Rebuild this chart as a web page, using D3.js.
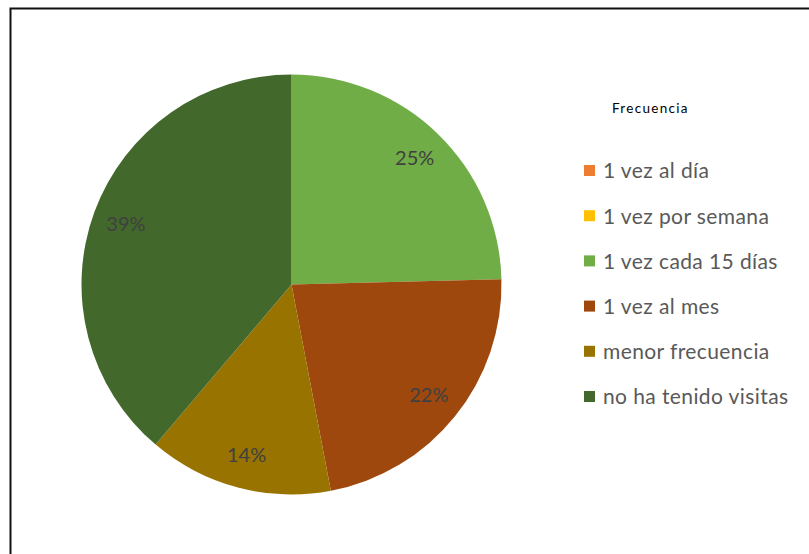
<!DOCTYPE html>
<html lang="es">
<head>
<meta charset="UTF-8">
<title>Frecuencia</title>
<style>
  body { margin: 0; background: #fff; }
  svg { display: block; font-family: Lato, "Open Sans", sans-serif; }
</style>
<script src="https://d3js.org/d3.v7.min.js"></script>
</head>
<body>
<svg width="809" height="554"></svg>
<script>
// data
var categories = ["1 vez al día", "1 vez por semana", "1 vez cada 15 días", "1 vez al mes", "menor frecuencia", "no ha tenido visitas"];
var values = [0, 0, 24.6, 22.4, 14.2, 38.8];
var colors = ["#ED7D31", "#FFC000", "#70AD47", "#9E480E", "#997300", "#43682B"];
var legendTitle = "Frecuencia";

var svg = d3.select("svg");

// chart frame
svg.append("rect")
    .attr("x", 10.5).attr("y", 8.5)
    .attr("width", 900).attr("height", 600)
    .attr("fill", "#fff")
    .attr("stroke", "#111")
    .attr("stroke-width", 2);

var cx = 291.5, cy = 284.5, r = 210;

var data = categories.map(function(c, i) { return { name: c, value: values[i], color: colors[i] }; });
var total = d3.sum(values);

var pie = d3.pie().sort(null).value(function(d) { return d.value; });
var arc = d3.arc().innerRadius(0).outerRadius(r);
var labelArc = d3.arc().innerRadius(r * 0.84).outerRadius(r * 0.84);

var g = svg.append("g").attr("transform", "translate(" + cx + "," + cy + ")");

var arcs = pie(data);

g.selectAll("path.slice")
    .data(arcs)
  .enter().append("path")
    .attr("class", "slice")
    .attr("d", arc)
    .attr("fill", function(d) { return d.data.color; });

g.selectAll("text.pct")
    .data(arcs.filter(function(d) { return d.data.value > 0; }))
  .enter().append("text")
    .attr("class", "pct")
    .attr("transform", function(d) { return "translate(" + labelArc.centroid(d) + ")"; })
    .attr("text-anchor", "middle")
    .attr("dy", "0.35em")
    .attr("fill", "#404040")
    .style("font-size", "20px")
    .text(function(d) { return Math.round(d.data.value / total * 100) + "%"; });

// legend
svg.append("text")
    .attr("x", 612).attr("y", 113)
    .attr("fill", "#000")
    .style("font-size", "13.5px")
    .style("letter-spacing", "1.3px")
    .text(legendTitle);

var y = d3.scalePoint().domain(categories).range([171, 397]);

var item = svg.selectAll("g.legend")
    .data(data)
  .enter().append("g")
    .attr("class", "legend")
    .attr("transform", function(d) { return "translate(584," + y(d.name) + ")"; });

item.append("rect")
    .attr("x", 0).attr("y", -6)
    .attr("width", 11).attr("height", 11)
    .attr("fill", function(d) { return d.color; });

item.append("text")
    .attr("x", 19)
    .attr("dy", "0.35em")
    .attr("fill", "#595959")
    .style("font-size", "21px")
    .style("letter-spacing", "0.4px")
    .text(function(d) { return d.name; });
</script>
</body>
</html>
